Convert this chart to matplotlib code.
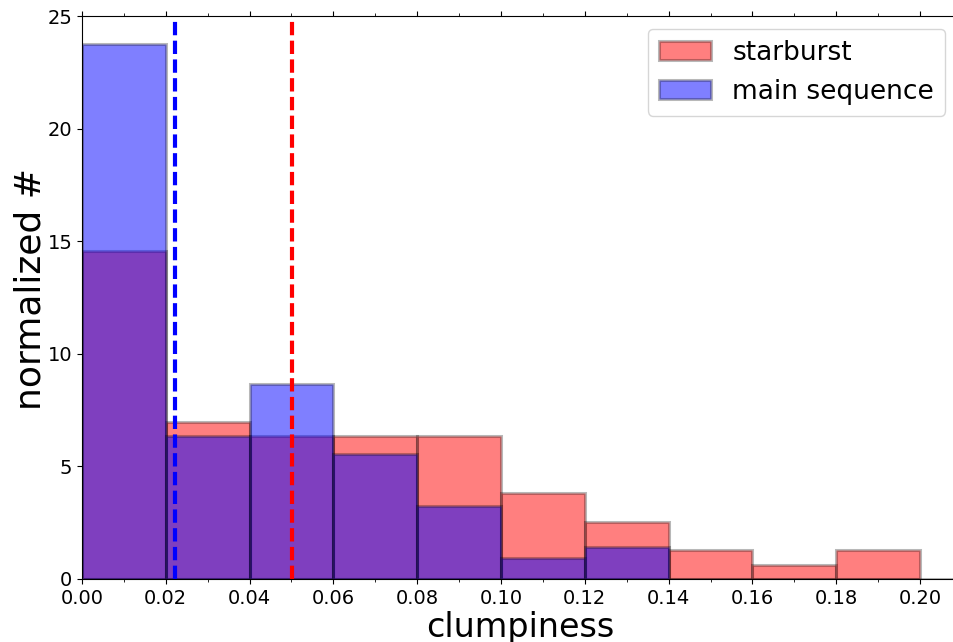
import numpy as np
import matplotlib
matplotlib.use("Agg")
import matplotlib.pyplot as plt
from matplotlib.ticker import MultipleLocator, FormatStrFormatter

# Bin edges (clumpiness)
sb_edges = [0.00, 0.02, 0.04, 0.06, 0.08, 0.10, 0.12, 0.14, 0.16, 0.18, 0.20]
ms_edges = [0.00, 0.02, 0.04, 0.06, 0.08, 0.10, 0.12, 0.14, 0.16, 0.18, 0.20, 0.22]

# Normalized heights
starburst = [14.55, 6.95, 6.35, 6.35, 6.35, 3.80, 2.54, 1.27, 0.63, 1.27]
main_sequence = [23.75, 6.35, 8.68, 5.55, 3.25, 0.93, 1.42, 0.0, 0.0, 0.0, 0.0]

# Medians (dashed lines)
ms_median = 0.0222
sb_median = 0.0501

fig = plt.figure(figsize=(9.54, 6.42), dpi=100)
ax = fig.add_axes([82/954, 63/642, (958-82)/954, (626-63)/642])

edge = (0, 0, 0, 0.28)
ax.hist(sb_edges[:-1], bins=sb_edges, weights=starburst, facecolor=(1, 0, 0, 0.5),
        edgecolor=edge, linewidth=2.2, label='starburst')
ax.hist(ms_edges[:-1], bins=ms_edges, weights=main_sequence, facecolor=(0, 0, 1, 0.5),
        edgecolor=edge, linewidth=2.2, label='main sequence')

ax.axvline(ms_median, color='blue', lw=3, linestyle=(0, (3.2, 1.3)))
ax.axvline(sb_median, color='red', lw=3, linestyle=(0, (3.2, 1.3)))

ax.set_xlim(0, (958-82)/4190)
ax.set_ylim(0, 25)
ax.xaxis.set_major_locator(MultipleLocator(0.02))
ax.xaxis.set_minor_locator(MultipleLocator(0.01))
ax.yaxis.set_major_locator(MultipleLocator(5))
ax.tick_params(axis='x', which='both', top=True)
ax.tick_params(axis='both', which='major', labelsize=14)
ax.xaxis.set_major_formatter(FormatStrFormatter('%.2f'))

ax.set_xlabel('clumpiness', fontsize=24, labelpad=2)
ax.set_ylabel('normalized #', fontsize=26, labelpad=0)
ax.yaxis.label.set_y(0.515)

ax.legend(loc='upper right', fontsize=19)

fig.savefig('out.png', dpi=100)
